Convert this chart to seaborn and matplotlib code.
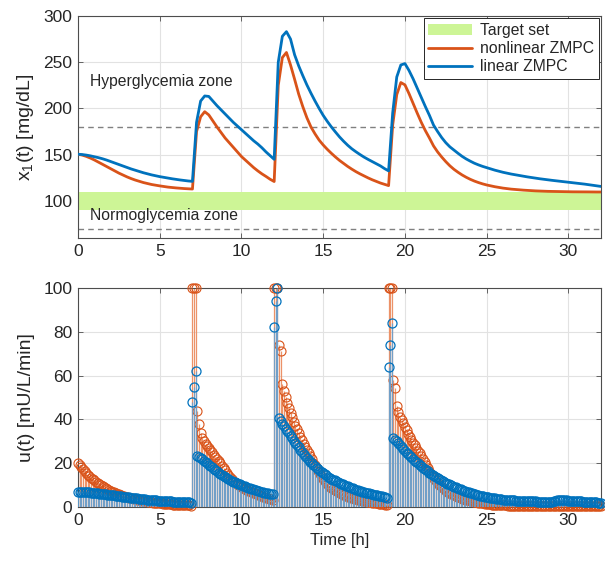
import numpy as np
import pandas as pd
import matplotlib
matplotlib.use("Agg")
import matplotlib.pyplot as plt
import seaborn as sns
from matplotlib.patches import Patch
from matplotlib.lines import Line2D

# ---------------- data ----------------
glucose_step = 0.25
insulin_step = 0.1
x_ticks = [0, 5, 10, 15, 20, 25, 30]
glucose_ticks = [100, 150, 200, 250, 300]
insulin_ticks = [0, 20, 40, 60, 80, 100]
target_low, target_high = 90, 110
hyper_limit, hypo_limit = 180, 70
legend_labels = ["Target set", "nonlinear ZMPC", "linear ZMPC"]

glucose_nonlinear = [
    150.5, 149.6, 148.2, 146.4, 144.3, 142.0, 139.6, 137.2, 134.8, 132.4,
    130.1, 128.0, 126.0, 124.2, 122.6, 121.2, 119.9, 118.8, 117.8, 117.0,
    116.3, 115.6, 115.0, 114.5, 114.1, 113.7, 113.4, 113.1, 112.9,
    175, 191, 196.5, 193, 186.5, 180, 174, 168, 163, 158,
    153, 148, 144, 140, 136, 132.5, 129.3, 126.5, 123.5, 121,
    225, 255, 260.5, 247, 231.5, 215.5, 202, 190, 180, 172.5,
    165.8, 160.5, 155.8, 151.5, 147.5, 143.8, 140.5, 137.3, 134.4, 131.7,
    129.3, 127.1, 124.9, 122.9, 121.1, 119.4, 118.0, 116.6,
    182, 215, 228, 225.5, 216, 205.5, 195, 185, 176, 168,
    159.5, 153, 147.5, 142.5, 138, 134.2, 131, 128.1, 125.6, 123.4,
    121.5, 119.9, 118.5, 117.3, 116.3, 115.4, 114.6, 113.9, 113.3, 112.8,
    112.4, 112.0, 111.7, 111.4, 111.1, 110.9, 110.7, 110.5, 110.4, 110.3,
    110.2, 110.1, 110.0, 110.0, 109.9, 109.9, 109.8, 109.8, 109.8, 109.7,
    109.7, 109.7,
]

glucose_linear = [
    150.5, 150.2, 149.6, 148.8, 147.8, 146.8, 145.6, 144.2, 142.6, 141.0,
    139.4, 137.8, 136.2, 134.6, 133.2, 131.8, 130.5, 129.3, 128.2, 127.2,
    126.3, 125.5, 124.7, 124.0, 123.3, 122.7, 122.1, 121.6, 121.2,
    185, 208, 213.5, 213, 208, 203, 198.5, 194, 189.5, 185,
    181, 177, 173, 169, 165, 161.5, 157.5, 153, 149, 145,
    250, 278, 283, 275, 258, 246, 235.5, 225.5, 216.5, 208,
    200, 192.5, 186, 180, 174.5, 169.2, 164.5, 160.2, 156.4, 153.2,
    150.2, 147.4, 144.9, 142.6, 140.2, 137.9, 135.0, 132.5,
    195, 234, 247, 248.5, 241, 232, 222, 212, 202, 192.5,
    182, 175, 168.5, 163, 158.5, 155, 151.5, 148.2, 145.4, 143,
    140.8, 139, 137.4, 136, 134.6, 133.3, 132.1, 131, 130, 129.1,
    128.3, 127.5, 126.7, 126, 125.3, 124.6, 124, 123.4, 122.8, 122.3,
    121.8, 121.3, 120.8, 120.3, 119.8, 119.3, 118.8, 118.2, 117.6, 117,
    116.3, 115.7,
]

insulin_nonlinear = [
    20.0, 19.0, 18.1, 17.2, 16.4, 15.6, 14.8, 14.1, 13.4, 12.7,
    12.1, 11.5, 11.0, 10.4, 9.9, 9.4, 9.0, 8.5, 8.1, 7.7,
    7.4, 7.0, 6.7, 6.3, 6.0, 5.7, 5.5, 5.2, 4.9, 4.7,
    4.5, 4.3, 4.1, 3.9, 3.7, 3.5, 3.3, 3.2, 3.0, 2.9,
    2.7, 2.6, 2.5, 2.4, 2.3, 2.1, 2.0, 1.9, 1.8, 1.7,
    1.6, 1.6, 1.5, 1.4, 1.3, 1.3, 1.2, 1.2, 1.1, 1.0,
    1.0, 0.9, 0.9, 0.9, 0.8, 0.8, 0.7, 0.7, 0.7, 0.6,
    100, 100, 100, 44.0, 38.0, 34.0, 31.5, 30.0, 28.8, 27.8,
    26.8, 25.9, 24.9, 23.9, 22.9, 21.9, 20.9, 20.0, 18.9, 17.8,
    16.7, 15.6, 14.6, 13.6, 12.7, 11.9, 11.2, 10.6, 10.0, 9.5,
    9.0, 8.6, 8.2, 7.8, 7.4, 7.1, 6.8, 6.5, 6.2, 5.9,
    5.6, 5.3, 5.0, 4.7, 4.5, 4.2, 4.0, 3.7, 3.5, 3.3,
    100, 100, 100, 74.0, 71.0, 56.0, 53.0, 50.0, 47.5, 45.0,
    43.0, 41.0, 39.0, 37.2, 35.4, 33.7, 32.0, 30.4, 28.9, 27.4,
    26.0, 24.6, 23.2, 21.7, 20.3, 19.0, 17.6, 16.3, 15.0, 13.8,
    12.7, 11.7, 10.8, 10.0, 9.3, 8.7, 8.1, 7.6, 7.1, 6.7,
    6.3, 5.9, 5.6, 5.3, 5.0, 4.7, 4.5, 4.2, 4.0, 3.8,
    3.6, 3.4, 3.2, 3.0, 2.9, 2.7, 2.6, 2.4, 2.3, 2.1,
    2.0, 1.9, 1.7, 1.6, 1.5, 1.4, 1.3, 1.2, 1.1, 1.0,
    100, 100, 100, 58.0, 54.5, 46.0, 43.5, 41.2, 39.6, 38.2,
    36.6, 35.0, 33.5, 32.0, 30.7, 29.4, 28.1, 26.8, 25.6, 24.5,
    23.3, 22.0, 20.6, 19.2, 17.8, 16.5, 15.2, 14.0, 12.9, 11.9,
    11.0, 10.2, 9.4, 8.7, 8.1, 7.5, 7.0, 6.5, 6.1, 5.7,
    5.3, 5.0, 4.7, 4.4, 4.1, 3.8, 3.6, 3.4, 3.2, 3.0,
    2.8, 2.6, 2.4, 2.3, 2.1, 2.0, 1.8, 1.7, 1.6, 1.5,
    1.4, 1.3, 1.2, 1.1, 1.0, 0.95, 0.9, 0.85, 0.8, 0.75,
    0.7, 0.7, 0.68, 0.66, 0.65, 0.64, 0.63, 0.62, 0.61, 0.6,
    0.6, 0.59, 0.58, 0.57, 0.56, 0.55, 0.55, 0.54, 0.53, 0.52,
    0.52, 0.51, 0.5, 0.5, 0.49, 0.48, 0.48, 0.47, 0.46, 0.46,
    0.45, 0.45, 0.44, 0.44, 0.43, 0.43, 0.42, 0.42, 0.41, 0.41,
    0.4, 0.4, 0.4, 0.39, 0.39, 0.38, 0.38, 0.38, 0.37, 0.37,
    0.37, 0.36, 0.36, 0.36, 0.35, 0.35, 0.35, 0.34, 0.34, 0.34,
    0.33,
]

insulin_linear = [
    7.0, 7.0, 6.95, 6.9, 6.85, 6.8, 6.7, 6.65, 6.6, 6.5,
    6.4, 6.35, 6.25, 6.15, 6.05, 5.95, 5.85, 5.75, 5.65, 5.55,
    5.45, 5.35, 5.25, 5.15, 5.05, 4.95, 4.85, 4.75, 4.65, 4.55,
    4.45, 4.35, 4.25, 4.15, 4.05, 3.95, 3.88, 3.8, 3.72, 3.64,
    3.56, 3.48, 3.4, 3.33, 3.26, 3.19, 3.12, 3.05, 2.98, 2.92,
    2.86, 2.8, 2.75, 2.7, 2.65, 2.6, 2.55, 2.5, 2.46, 2.42,
    2.38, 2.34, 2.3, 2.26, 2.22, 2.18, 2.14, 2.1, 2.06, 2.02,
    48.0, 55.0, 62.0, 23.5, 22.9, 22.3, 21.7, 21.1, 20.5, 19.9,
    19.3, 18.7, 18.1, 17.5, 16.9, 16.3, 15.7, 15.1, 14.6, 14.1,
    13.6, 13.1, 12.7, 12.3, 11.9, 11.5, 11.2, 10.9, 10.6, 10.3,
    10.0, 9.7, 9.4, 9.1, 8.8, 8.6, 8.3, 8.1, 7.8, 7.6,
    7.4, 7.2, 7.0, 6.8, 6.6, 6.4, 6.2, 6.0, 5.8, 5.7,
    82.0, 94.0, 100.0, 40.5, 39.3, 38.1, 36.9, 35.8, 34.7, 33.6,
    32.5, 31.4, 30.3, 29.2, 28.2, 27.2, 26.2, 25.2, 24.2, 23.3,
    22.4, 21.5, 20.7, 19.9, 19.2, 18.5, 17.8, 17.2, 16.6, 16.0,
    15.4, 14.9, 14.4, 13.9, 13.4, 12.9, 12.5, 12.1, 11.7, 11.3,
    10.9, 10.6, 10.3, 10.0, 9.7, 9.4, 9.1, 8.8, 8.5, 8.2,
    7.9, 7.7, 7.5, 7.2, 7.0, 6.8, 6.6, 6.4, 6.2, 6.0,
    5.8, 5.6, 5.4, 5.3, 5.1, 4.9, 4.8, 4.6, 4.5, 4.3,
    64.0, 74.0, 84.0, 31.5, 30.8, 29.9, 29.0, 28.1, 27.2, 26.4,
    25.6, 24.8, 24.0, 23.3, 22.6, 21.9, 21.2, 20.5, 19.9, 19.2,
    18.6, 18.0, 17.4, 16.8, 16.3, 15.7, 15.2, 14.7, 14.2, 13.7,
    13.2, 12.8, 12.3, 11.9, 11.5, 11.1, 10.7, 10.3, 9.9, 9.6,
    9.2, 8.9, 8.6, 8.3, 8.0, 7.7, 7.4, 7.2, 6.9, 6.7,
    6.4, 6.2, 6.0, 5.8, 5.6, 5.4, 5.2, 5.0, 4.8, 4.7,
    4.5, 4.4, 4.2, 4.1, 4.0, 3.9, 3.8, 3.7, 3.6, 3.5,
    3.4, 3.35, 3.3, 3.2, 3.15, 3.1, 3.05, 3.0, 2.95, 2.9,
    2.85, 2.8, 2.75, 2.7, 2.7, 2.65, 2.6, 2.6, 2.55, 2.5,
    2.5, 2.45, 2.45, 2.4, 2.4, 2.35, 2.35, 2.3, 2.3, 2.3,
    2.4, 2.6, 2.9, 3.1, 3.2, 3.2, 3.15, 3.1, 3.0, 3.0,
    2.9, 2.85, 2.8, 2.75, 2.7, 2.65, 2.6, 2.55, 2.5, 2.45,
    2.4, 2.35, 2.3, 2.25, 2.2, 2.15, 2.1, 2.05, 2.0, 1.95,
    1.9,
]

t_glucose = np.round(np.arange(len(glucose_linear)) * glucose_step, 2)
t_insulin = np.round(np.arange(len(insulin_linear)) * insulin_step, 2)

df_g = pd.DataFrame({"t": t_glucose, "nl": glucose_nonlinear, "lin": glucose_linear})

# ---------------- style ----------------
BLUE = "#0072BD"
ORANGE = "#D95319"
BLUE_STEM = "#5fa2d8"
ORANGE_STEM = "#ec9268"
GREEN = "#cdf596"
DARK = "#262626"

sns.set_theme(style="whitegrid")
plt.rcParams["font.family"] = ["Liberation Sans", "DejaVu Sans"]
plt.rcParams["mathtext.fontset"] = "custom"
plt.rcParams["mathtext.rm"] = "Liberation Sans"
plt.rcParams["mathtext.it"] = "Liberation Sans:italic"

fig = plt.figure(figsize=(6.05, 5.65), dpi=100)
fig.patch.set_facecolor("white")
ax1 = fig.add_axes([0.129, 0.5788, 0.8645, 0.393])
ax2 = fig.add_axes([0.129, 0.1027, 0.8645, 0.3876])


def style(ax):
    ax.set_facecolor("white")
    ax.grid(True, color="#e2e2e2", linewidth=0.8)
    ax.set_axisbelow(True)
    for s in ax.spines.values():
        s.set_visible(True)
        s.set_color("#4d4d4d")
        s.set_linewidth(0.8)
    ax.tick_params(direction="in", length=3.5, width=0.6, colors="#4d4d4d",
                   labelcolor=DARK, labelsize=12.5, top=True, right=True,
                   bottom=True, left=True, pad=4)


# ---------------- top panel ----------------
style(ax1)
ax1.axhspan(target_low, target_high, color=GREEN, lw=0, zorder=1)
for lvl in (hyper_limit, hypo_limit):
    ax1.axhline(lvl, color="#808080", ls=(0, (4, 3)), lw=1.0, zorder=1.5)
sns.lineplot(data=df_g, x="t", y="nl", color=ORANGE, lw=2.0, ax=ax1, zorder=3)
sns.lineplot(data=df_g, x="t", y="lin", color=BLUE, lw=2.0, ax=ax1, zorder=4)
ax1.set_xlim(0, 32)
ax1.set_ylim(60, 300)
ax1.set_xticks(x_ticks)
ax1.set_yticks(glucose_ticks)
ax1.set_xlabel("")
ax1.set_ylabel(r"x$_\mathregular{1}$(t) [mg/dL]", fontsize=14, color=DARK, labelpad=5)
ax1.text(0.75, 229, "Hyperglycemia zone", fontsize=11.3, va="center", color=DARK)
ax1.text(0.75, 84, "Normoglycemia zone", fontsize=11.3, va="center", color=DARK)
handles = [Patch(facecolor=GREEN, edgecolor="none"),
           Line2D([], [], color=ORANGE, lw=2),
           Line2D([], [], color=BLUE, lw=2)]
leg = ax1.legend(handles, legend_labels, loc="upper right", fontsize=11.3,
                 frameon=True, fancybox=False, framealpha=1,
                 edgecolor=DARK, borderaxespad=0.15, handlelength=2.8,
                 labelspacing=0.2, borderpad=0.3, handletextpad=0.5)
leg.get_frame().set_linewidth(0.7)

# ---------------- bottom panel ----------------
style(ax2)
ax2.vlines(t_insulin, 0, insulin_nonlinear, color=ORANGE_STEM, lw=0.9, zorder=2)
ax2.plot(t_insulin, insulin_nonlinear, ls="none", marker="o", ms=6.5, mfc="none",
         mec=ORANGE, mew=0.8, clip_on=False, zorder=3)
ax2.vlines(t_insulin, 0, insulin_linear, color=BLUE_STEM, lw=0.9, alpha=0.85, zorder=4)
ax2.plot(t_insulin, insulin_linear, ls="none", marker="o", ms=6.5, mfc="none",
         mec=BLUE, mew=0.9, clip_on=False, zorder=5)
ax2.set_xlim(0, 32)
ax2.set_ylim(0, 100)
ax2.set_xticks(x_ticks)
ax2.set_yticks(insulin_ticks)
ax2.set_xlabel("Time [h]", fontsize=12, color=DARK)
ax2.set_ylabel("u(t) [mU/L/min]", fontsize=14, color=DARK, labelpad=6)

fig.savefig("out.png", dpi=100, facecolor="white")
